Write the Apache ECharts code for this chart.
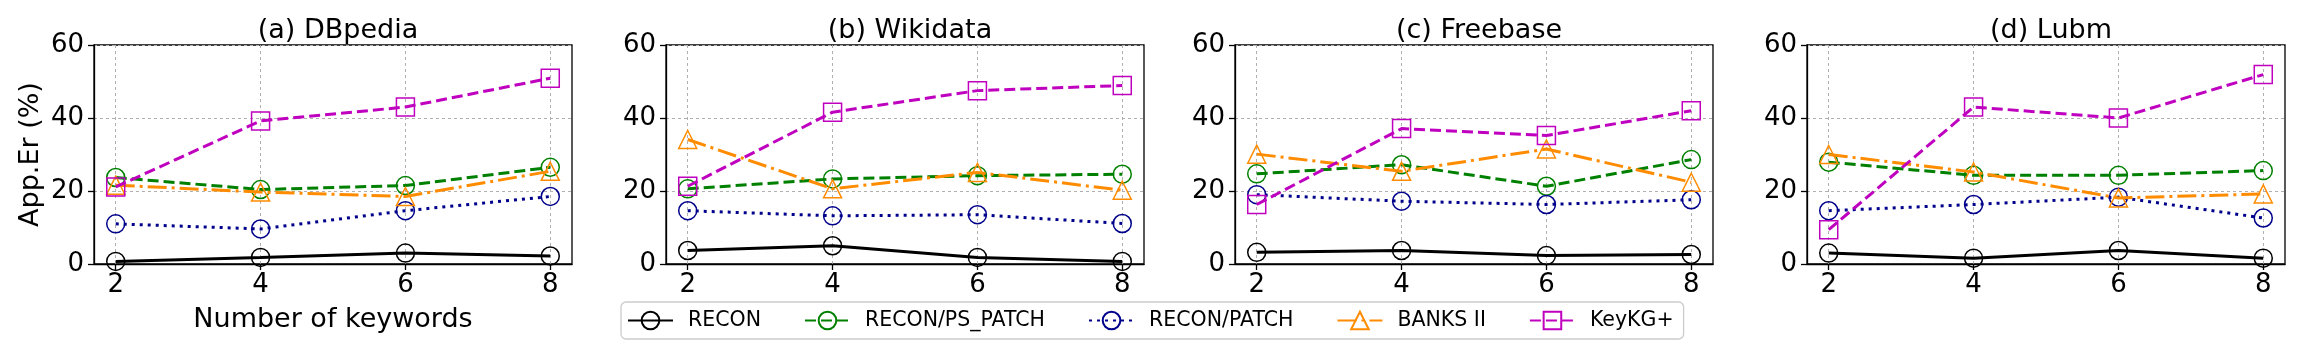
<!DOCTYPE html>
<html>
<head>
<meta charset="utf-8">
<script src="https://cdn.jsdelivr.net/npm/echarts@6/dist/echarts.min.js"></script>
<style>
  html, body { margin: 0; padding: 0; background: #fff; }
  #chart { width: 2300px; height: 350px; }
</style>
</head>
<body>
<div id="chart"></div>
<script>
// x 轴：关键字个数
const keywordCounts = [2, 4, 6, 8];
const yTicks = [0, 20, 40, 60];
const panelTitles = ['(a) DBpedia', '(b) Wikidata', '(c) Freebase', '(d) Lubm'];
const methodNames = ['RECON', 'RECON/PS_PATCH', 'RECON/PATCH', 'BANKS II', 'KeyKG+'];

// 每个方法在四个数据集上的 App.Er (%)，顺序同 panelTitles
const reconData     = [[0.7, 1.8, 3.0, 2.2], [3.7, 5.0, 1.8, 0.7], [3.2, 3.7, 2.3, 2.6], [3.0, 1.6, 3.7, 1.6]];
const psPatchData   = [[23.7, 20.4, 21.5, 26.5], [20.6, 23.3, 24.2, 24.6], [24.7, 27.2, 21.3, 28.6], [27.9, 24.3, 24.3, 25.6]];
const patchData     = [[11.0, 9.6, 14.6, 18.5], [14.6, 13.2, 13.5, 11.1], [19.0, 17.2, 16.3, 17.6], [14.6, 16.3, 18.3, 12.6]];
const banksData     = [[21.6, 19.7, 18.5, 25.4], [34.1, 20.6, 25.1, 20.2], [30.1, 25.4, 31.5, 22.4], [30.0, 25.2, 18.1, 19.2]];
const keykgData     = [[21.1, 39.2, 43.0, 50.9], [21.3, 41.6, 47.5, 48.9], [16.3, 37.1, 35.2, 42.0], [9.4, 43.0, 40.0, 51.9]];

const font = 'DejaVu Sans';
const allData = [reconData, psPatchData, patchData, banksData, keykgData];
// 线型
const styles = [
  { color: '#000000', symbol: 'circle', dash: 'solid' },
  { color: '#008000', symbol: 'circle', dash: [11, 5] },
  { color: '#00008b', symbol: 'circle', dash: [3, 5] },
  { color: '#ff8c00', symbol: 'triangle', dash: [19, 5, 3, 5] },
  { color: '#bf00bf', symbol: 'rect', dash: [11, 5] }
];

const lefts = [94, 666, 1235, 1807];
const plotW = 478, plotTop = 45, plotH = 219;

const grids = [], xAxes = [], yAxes = [], titles = [], series = [];
lefts.forEach((l, i) => {
  grids.push({ left: l, top: plotTop, width: plotW, height: plotH, show: true,
    borderColor: '#000', borderWidth: 1.3, backgroundColor: 'transparent' });
  titles.push({ text: panelTitles[i], left: l + plotW / 2, top: 12, textAlign: 'center',
    textStyle: { fontFamily: font, fontSize: 27, fontWeight: 'normal', color: '#000' } });
  xAxes.push({
    gridIndex: i, type: 'value', min: 1.7, max: 8.3,
    axisLine: { show: true, onZero: false, lineStyle: { color: '#000', width: 1.3 } },
    axisTick: { show: true, customValues: keywordCounts, length: 6, lineStyle: { color: '#000', width: 1.3 } },
    axisLabel: { customValues: keywordCounts, fontFamily: font, fontSize: 26, color: '#000', margin: 8 },
    splitLine: { show: true, lineStyle: { type: [3, 3], color: '#b0b0b0', width: 1 } },
    name: i === 0 ? 'Number of keywords' : '', nameLocation: 'middle', nameGap: 42,
    nameTextStyle: { fontFamily: font, fontSize: 27, color: '#000' }
  });
  yAxes.push({
    gridIndex: i, type: 'value', min: 0, max: 60, interval: 20,
    axisLine: { show: true, lineStyle: { color: '#000', width: 1.3 } },
    axisTick: { show: true, length: 6, lineStyle: { color: '#000', width: 1.3 } },
    axisLabel: { fontFamily: font, fontSize: 26, color: '#000', margin: 10 },
    splitLine: { show: true, lineStyle: { type: [3, 3], color: '#b0b0b0', width: 1 } },
    name: i === 0 ? 'App.Er (%)' : '', nameLocation: 'middle', nameGap: 50,
    nameTextStyle: { fontFamily: font, fontSize: 27, color: '#000' }
  });
  allData.forEach((d, m) => {
    const s = styles[m];
    series.push({
      type: 'line', name: methodNames[m], xAxisIndex: i, yAxisIndex: i,
      data: keywordCounts.map((k, j) => [k, d[i][j]]),
      color: s.color, symbol: s.symbol, symbolSize: 18,
      lineStyle: { color: s.color, width: 3, type: s.dash },
      itemStyle: { color: 'rgba(255,255,255,0)', borderColor: s.color, borderWidth: 1.5 },
      emphasis: { disabled: true }, z: 2 + m
    });
  });
});

const chart = echarts.init(document.getElementById('chart'));
chart.setOption({
  animation: false,
  textStyle: { fontFamily: font },
  title: titles,
  grid: grids,
  xAxis: xAxes,
  yAxis: yAxes,
  legend: {
    data: methodNames, left: 621, top: 302, orient: 'horizontal',
    itemWidth: 45, itemHeight: 22, itemGap: 43,
    padding: [8, 10, 8, 6], borderColor: '#cccccc', borderWidth: 1.3, borderRadius: 5,
    backgroundColor: '#fff',
    textStyle: { fontFamily: font, fontSize: 20.5, color: '#000', padding: [0, 0, 0, 10] }
  },
  series: series
});
</script>
</body>
</html>
